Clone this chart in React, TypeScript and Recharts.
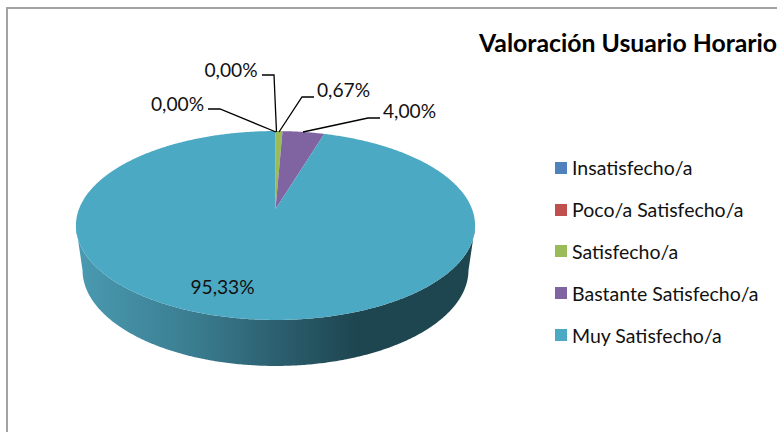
import { PieChart, Pie, Legend } from 'recharts';

const categories = ['Insatisfecho/a', 'Poco/a Satisfecho/a', 'Satisfecho/a', 'Bastante Satisfecho/a', 'Muy Satisfecho/a'];
const percents = [0, 0, 0.67, 4, 95.33];
const colors = ['#4F81BD', '#C0504D', '#9BBB59', '#8064A2', '#4BA9C3'];

const FONT = 'Lato, Carlito, sans-serif';

// hand placed data labels: [text x, text baseline y, leader line points]
const labelLayout: { x: number; y: number; line?: string }[] = [
  { x: 177.5, y: 111, line: '208,109 220,109 276,132' },
  { x: 231, y: 77, line: '262,75 274,75 276.5,132' },
  { x: 343.5, y: 97, line: '314,97 302,97 279,132' },
  { x: 409.5, y: 118, line: '380,118 368,118 303,132' },
  { x: 222.5, y: 294 },
];

// perspective of the tilted disc
const TILT = 0.1746;
const SQUASH = 0.466;
const DEPTH = 44.5;
const BOTTOM_SCALE = 0.967;

const data = categories.map((name, i) => ({ name, value: percents[i], fill: colors[i] }));

function project(cx: number, cy: number, r: number, angle: number) {
  const rad = (angle * Math.PI) / 180;
  const u = Math.cos(rad);
  const v = Math.sin(rad);
  const w = 1 + TILT * v;
  return { x: cx + (r * u) / w, y: cy - (r * SQUASH * v) / w, v };
}

function DiscSector(props: any) {
  const { cx, cy, outerRadius, startAngle, endAngle, fill } = props;
  if (startAngle === endAngle) return null;
  const step = startAngle > endAngle ? -0.5 : 0.5;
  const rim = [];
  for (let a = startAngle; step < 0 ? a > endAngle : a < endAngle; a += step) {
    rim.push(project(cx, cy, outerRadius, a));
  }
  rim.push(project(cx, cy, outerRadius, endAngle));

  const top = `M${cx},${cy} ` + rim.map((p) => `L${p.x.toFixed(2)},${p.y.toFixed(2)}`).join(' ') + ' Z';

  // side wall, only where the rim faces the viewer
  const front = rim.filter((p) => p.v < -TILT);
  const midY = cy + (outerRadius * SQUASH * TILT) / (1 - TILT * TILT);
  const lower = front
    .slice()
    .reverse()
    .map((p) => ({
      x: cx + (p.x - cx) * BOTTOM_SCALE,
      y: p.y + DEPTH + (p.y - midY) * 0.016,
    }));
  const wall = front.length
    ? 'M' + front.concat(lower as any).map((p) => `${p.x.toFixed(2)},${p.y.toFixed(2)}`).join(' L') + ' Z'
    : null;

  return (
    <g>
      {wall && <path d={wall} fill="url(#wallGrad)" />}
      <path d={top} fill={fill} />
    </g>
  );
}

function PercentLabel(props: any) {
  const { index, value } = props;
  const pos = labelLayout[index];
  return (
    <g>
      {pos.line && <polyline points={pos.line} fill="none" stroke="#000" strokeWidth={1.3} />}
      <text x={pos.x} y={pos.y} textAnchor="middle" fontFamily={FONT} fontSize={19.2} fill="#111">
        {value.toFixed(2).replace('.', ',') + '%'}
      </text>
    </g>
  );
}

function LegendList({ payload }: any) {
  return (
    <div>
      {(payload || []).map((item: any) => (
        <div key={item.value} style={{ display: 'flex', alignItems: 'center', height: 41.8 }}>
          <span style={{ width: 12, height: 12, background: item.color, marginRight: 5, flex: 'none' }} />
          <span style={{ fontFamily: FONT, fontSize: 19.5, color: '#111', whiteSpace: 'nowrap' }}>{item.value}</span>
        </div>
      ))}
    </div>
  );
}

export default function App() {
  return (
    <div style={{ position: 'absolute', left: 0, top: 0, width: 777, height: 432, overflow: 'hidden', background: '#fff' }}>
      <div style={{ position: 'absolute', left: 6, top: 7, width: 900, height: 600, border: '2px solid #a3a3a3' }} />
      <div style={{ position: 'absolute', left: 0, top: 0 }}>
        <PieChart width={777} height={432} margin={{ top: 0, right: 0, bottom: 0, left: 0 }}>
          <defs>
            <linearGradient id="wallGrad" gradientUnits="userSpaceOnUse" x1="76" y1="0" x2="475" y2="0">
              <stop offset="0" stopColor="#4A9BB2" />
              <stop offset="0.3" stopColor="#3A7C8F" />
              <stop offset="0.5" stopColor="#2C6070" />
              <stop offset="0.7" stopColor="#1E4650" />
              <stop offset="1" stopColor="#1E4650" />
            </linearGradient>
          </defs>
          <Pie
            data={data}
            dataKey="value"
            nameKey="name"
            cx={275.5}
            cy={209}
            outerRadius={196.5}
            startAngle={90}
            endAngle={-270}
            stroke="none"
            shape={DiscSector}
            label={PercentLabel}
            labelLine={false}
            isAnimationActive={false}
          />
          <text x={479} y={52} fontFamily={FONT} fontSize={24.8} fontWeight={700} fill="#000">
            Valoración Usuario Horario
          </text>
          <Legend
            layout="vertical"
            align="right"
            verticalAlign="top"
            itemSorter={null}
            content={LegendList}
            wrapperStyle={{ left: 555, top: 147, right: 'auto', width: 222 }}
          />
        </PieChart>
      </div>
    </div>
  );
}
